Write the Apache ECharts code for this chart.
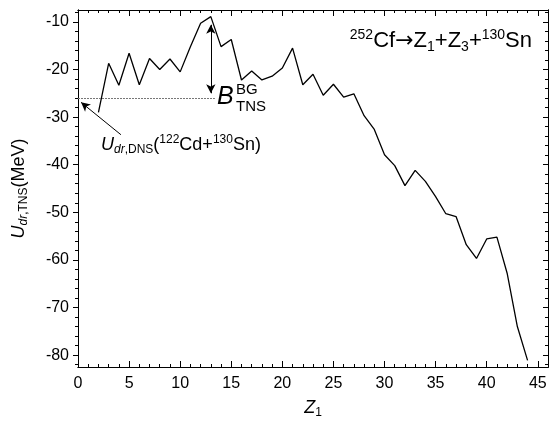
<!DOCTYPE html>
<html>
<head>
<meta charset="utf-8">
<script src="https://cdn.jsdelivr.net/npm/echarts@6/dist/echarts.min.js"></script>
<style>
  html, body { margin: 0; background: #fff; }
  #chart { width: 550px; height: 425px; }
</style>
</head>
<body>
<div id="chart"></div>
<script>
// Z1 of the fragment and the driving potential U_dr,TNS (MeV)
const zValues = [2, 3, 4, 5, 6, 7, 8, 9, 10, 11, 12, 13, 14, 15, 16, 17, 18, 19, 20, 21, 22, 23,
  24, 25, 26, 27, 28, 29, 30, 31, 32, 33, 34, 35, 36, 37, 38, 39, 40, 41, 42, 43, 44]
const uValues = [-29.0, -18.7, -23.3, -16.6, -23.2, -17.7, -20.0, -17.8, -20.5, -15.2, -10.3, -8.9,
  -15.2, -13.7, -22.2, -20.3, -22.2, -21.4, -19.7, -15.5, -23.2, -21.0, -25.4, -23.1, -25.8, -25.1,
  -29.7, -32.6, -37.9, -40.2, -44.4, -41.2, -43.5, -46.7, -50.3, -50.9, -56.8, -59.7, -55.6, -55.2,
  -62.8, -74.0, -81.1]

// tick labels
const xMajorTicks = [0, 5, 10, 15, 20, 25, 30, 35, 40, 45]
const xMinorTicks = [0, 1, 2, 3, 4, 5, 6, 7, 8, 9, 10, 11, 12, 13, 14, 15, 16, 17, 18, 19, 20, 21, 22, 23,
  24, 25, 26, 27, 28, 29, 30, 31, 32, 33, 34, 35, 36, 37, 38, 39, 40, 41, 42, 43, 44, 45, 46]
const yMajorTicks = [-80, -70, -60, -50, -40, -30, -20, -10]
const yMinorTicks = [-82, -80, -78, -76, -74, -72, -70, -68, -66, -64, -62, -60, -58, -56, -54, -52, -50,
  -48, -46, -44, -42, -40, -38, -36, -34, -32, -30, -28, -26, -24, -22, -20, -18, -16, -14, -12, -10, -8]

// annotations: U_dr,DNS level, the barrier arrow and the pointer arrow
const dnsLevel = -26
const dnsLineEnd = 13.4
const barrierArrow = [[13, -10.6], [13, -25]]
const pointerArrow = [[4.2, -33.7], [0.3, -26.9]]

const font = '"Liberation Sans", Arial, sans-serif'

function xAxisDef(position, ticks, len, withLabel) {
  return {
    type: 'value',
    position: position,
    min: 0,
    max: 46,
    axisLine: { show: true, onZero: false, lineStyle: { color: '#000', width: 1 } },
    axisTick: { show: true, inside: true, length: len, customValues: ticks, lineStyle: { color: '#000' } },
    axisLabel: withLabel
      ? { show: true, customValues: xMajorTicks, margin: 9, color: '#000', fontSize: 16, fontFamily: font }
      : { show: false },
    splitLine: { show: false }
  }
}

function yAxisDef(position, ticks, len, inside, withLabel) {
  return {
    type: 'value',
    position: position,
    min: -82.5,
    max: -7.5,
    axisLine: { show: true, onZero: false, lineStyle: { color: '#000', width: 1 } },
    axisTick: { show: true, inside: inside, length: len, customValues: ticks, lineStyle: { color: '#000' } },
    axisLabel: withLabel
      ? { show: true, customValues: yMajorTicks, margin: 9, color: '#000', fontSize: 16, fontFamily: font }
      : { show: false },
    splitLine: { show: false }
  }
}

const xBottom = xAxisDef('bottom', xMajorTicks, 6, true)
xBottom.name = '{i|Z}{s|1}'
xBottom.nameLocation = 'middle'
xBottom.nameGap = 30
xBottom.nameTextStyle = {
  color: '#000',
  rich: {
    i: { fontSize: 18, fontStyle: 'italic', fontFamily: font, lineHeight: 22 },
    s: { fontSize: 12, fontFamily: font, verticalAlign: 'bottom', lineHeight: 14 }
  }
}

const yLeft = yAxisDef('left', yMajorTicks, 5, false, true)
yLeft.name = '{i|U}{si|dr}{s|,TNS}{n|(MeV)}'
yLeft.nameLocation = 'middle'
yLeft.nameRotate = 90
yLeft.nameGap = 48
yLeft.nameTextStyle = {
  color: '#000',
  rich: {
    i: { fontSize: 18, fontStyle: 'italic', fontFamily: font, lineHeight: 22 },
    n: { fontSize: 18, fontFamily: font, lineHeight: 22 },
    si: { fontSize: 12, fontStyle: 'italic', fontFamily: font, verticalAlign: 'bottom', lineHeight: 14 },
    s: { fontSize: 12, fontFamily: font, verticalAlign: 'bottom', lineHeight: 14 }
  }
}

const chart = echarts.init(document.getElementById('chart'), null, { renderer: 'canvas' })

chart.setOption({
  animation: false,
  backgroundColor: '#fff',
  grid: { left: 78, right: 2, top: 10, bottom: 58 },
  xAxis: [
    xBottom,
    xAxisDef('bottom', xMinorTicks, 3, false),
    xAxisDef('top', xMajorTicks, 6, false),
    xAxisDef('top', xMinorTicks, 3, false)
  ],
  yAxis: [
    yLeft,
    yAxisDef('left', yMinorTicks, 3, false, false),
    yAxisDef('right', yMajorTicks, 5, true, false),
    yAxisDef('right', yMinorTicks, 3, true, false)
  ],
  series: [
    {
      type: 'line',
      xAxisIndex: 0,
      yAxisIndex: 0,
      data: zValues.map((z, i) => [z, uValues[i]]),
      showSymbol: false,
      lineStyle: { color: '#000', width: 1.3 },
      emphasis: { disabled: true },
      markLine: {
        silent: true,
        symbol: ['none', 'none'],
        symbolSize: [7, 9],
        label: { show: false },
        data: [
          [
            { coord: [0, dnsLevel], lineStyle: { color: '#777', type: [2, 1], width: 1 } },
            { coord: [dnsLineEnd, dnsLevel] }
          ],
          [
            { coord: barrierArrow[0], symbol: 'arrow', lineStyle: { color: '#000', type: 'solid', width: 1 } },
            { coord: barrierArrow[1], symbol: 'arrow' }
          ],
          [
            { coord: pointerArrow[0], symbol: 'none', lineStyle: { color: '#000', type: 'solid', width: 1 } },
            { coord: pointerArrow[1], symbol: 'arrow' }
          ]
        ]
      }
    }
  ],
  graphic: [
    {
      type: 'text',
      right: 18,
      top: 28,
      style: {
        text: '{sup|252}{n|Cf}{a|→}{n|Z}{sub|1}{n|+Z}{sub|3}{n|+}{sup|130}{n|Sn}',
        fill: '#000',
        rich: {
          n: { fontSize: 22, fontFamily: font, lineHeight: 26 },
          a: { fontSize: 22, fontFamily: '"DejaVu Sans", sans-serif', lineHeight: 26 },
          sup: { fontSize: 14, fontFamily: font, verticalAlign: 'top', lineHeight: 16 },
          sub: { fontSize: 14, fontFamily: font, verticalAlign: 'bottom', lineHeight: 16 }
        }
      }
    },
    {
      type: 'text',
      left: 217,
      top: 85,
      style: { text: 'B', fill: '#000', fontSize: 25, fontStyle: 'italic', fontFamily: font }
    },
    {
      type: 'text',
      left: 236,
      top: 82,
      style: { text: 'BG', fill: '#000', fontSize: 15, fontFamily: font }
    },
    {
      type: 'text',
      left: 236,
      top: 99,
      style: { text: 'TNS', fill: '#000', fontSize: 15, fontFamily: font }
    },
    {
      type: 'text',
      left: 101,
      top: 134,
      style: {
        text: '{i|U}{si|dr}{s|,DNS}{n|(}{sup|122}{n|Cd+}{sup|130}{n|Sn)}',
        fill: '#000',
        rich: {
          i: { fontSize: 18, fontStyle: 'italic', fontFamily: font, lineHeight: 22 },
          n: { fontSize: 18, fontFamily: font, lineHeight: 22 },
          si: { fontSize: 12, fontStyle: 'italic', fontFamily: font, verticalAlign: 'bottom', lineHeight: 14 },
          s: { fontSize: 12, fontFamily: font, verticalAlign: 'bottom', lineHeight: 14 },
          sup: { fontSize: 12, fontFamily: font, verticalAlign: 'top', lineHeight: 14 }
        }
      }
    }
  ]
})
</script>
</body>
</html>
